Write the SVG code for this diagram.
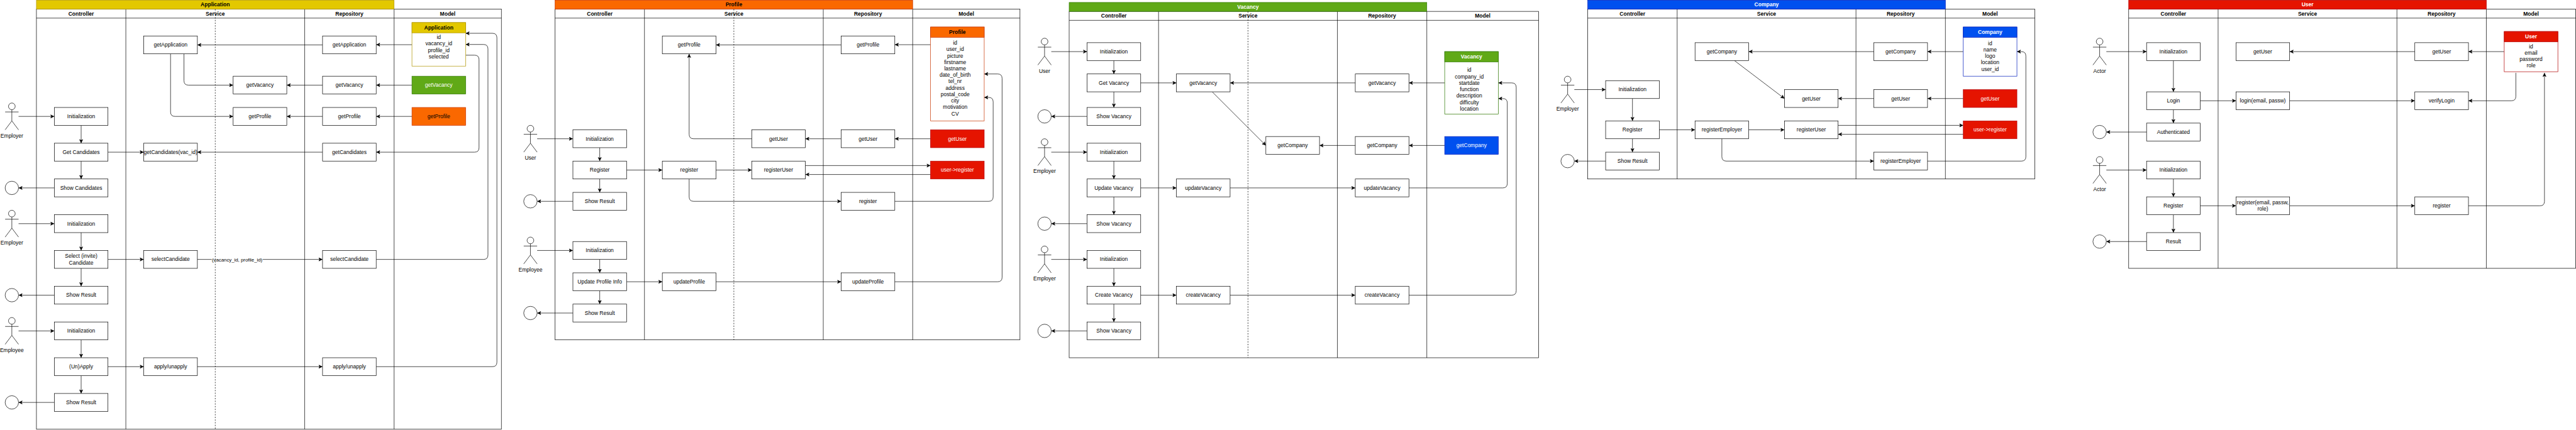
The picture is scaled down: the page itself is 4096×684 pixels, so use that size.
<svg xmlns="http://www.w3.org/2000/svg" width="4096" height="684" viewBox="0 0 4096 684">
<style>
text{font-family:"Liberation Sans",Arial,Helvetica,sans-serif;font-size:12px;text-anchor:middle;fill:#000}
.bold{font-weight:bold}
.w{fill:#fff}
.b{fill:#fff;stroke:#000}
.s{fill:#fff;stroke:#000}
.l{fill:none;stroke:#000}
.c{fill:none;stroke:#000;marker-end:url(#arrow)}
.d{fill:none;stroke:#000;stroke-dasharray:3 3}
.yellow{fill:#e3c800;stroke:#B09500}
.orange{fill:#fa6800;stroke:#C73500}
.green{fill:#60a917;stroke:#2D7600}
.blue{fill:#0050ef;stroke:#001DBC}
.red{fill:#e51400;stroke:#B20000}
.by{fill:#fff;stroke:#B09500}
.bo{fill:#fff;stroke:#C73500}
.bg{fill:#fff;stroke:#2D7600}
.bb{fill:#fff;stroke:#001DBC}
.br{fill:#fff;stroke:#B20000}
</style>
<defs>
<marker id="arrow" markerUnits="userSpaceOnUse" markerWidth="10" markerHeight="9" viewBox="0 0 10 9" refX="9.1" refY="4.5" orient="auto"><path d="M8 4.5L1 1L2.75 4.5L1 8Z" fill="#000" stroke="#000"/></marker>
<rect id="r" class="b" width="120" height="40"/>
<g id="actor"><ellipse class="s" cx="15" cy="7.5" rx="7.5" ry="7.5"/><path class="l" d="M15 15V40M0 20H30M0 60L15 40L30 60"/></g>
<ellipse id="circ" class="s" cx="15" cy="15" rx="15" ry="15"/>
</defs>
<rect width="4096" height="684" fill="#fff"/>
<g transform="scale(0.71086)">

<g id="pools">
<g id="pool-application">
<rect class="b" x="81.5" y="20.5" width="1040" height="940"/>
<path class="l" d="M81.5 40.5H1121.5M281.5 20.5V960.5M681.5 20.5V960.5M881.5 20.5V960.5"/>
<rect class="yellow" x="81.5" y="0.5" width="800" height="20"/>
<text class="bold" x="481.5" y="14.5">Application</text>
<text class="bold" x="181.5" y="34.5">Controller</text><text class="bold" x="481.5" y="34.5">Service</text><text class="bold" x="781.5" y="34.5">Repository</text><text class="bold" x="1001.5" y="34.5">Model</text>
</g>
<g id="pool-profile">
<rect class="b" x="1241.5" y="20.5" width="1040" height="740"/>
<path class="l" d="M1241.5 40.5H2281.5M1441.5 20.5V760.5M1841.5 20.5V760.5M2041.5 20.5V760.5"/>
<rect class="orange" x="1241.5" y="0.5" width="800" height="20"/>
<text class="bold" x="1641.5" y="14.5">Profile</text>
<text class="bold" x="1341.5" y="34.5">Controller</text><text class="bold" x="1641.5" y="34.5">Service</text><text class="bold" x="1941.5" y="34.5">Repository</text><text class="bold" x="2161.5" y="34.5">Model</text>
</g>
<g id="pool-vacancy">
<rect class="b" x="2391.5" y="25.5" width="1050" height="775"/>
<path class="l" d="M2391.5 45.5H3441.5M2591.5 25.5V800.5M2991.5 25.5V800.5M3191.5 25.5V800.5"/>
<rect class="green" x="2391.5" y="5.5" width="800" height="20"/>
<text class="bold w" x="2791.5" y="19.5">Vacancy</text>
<text class="bold" x="2491.5" y="39.5">Controller</text><text class="bold" x="2791.5" y="39.5">Service</text><text class="bold" x="3091.5" y="39.5">Repository</text><text class="bold" x="3316.5" y="39.5">Model</text>
</g>
<g id="pool-company">
<rect class="b" x="3551.5" y="20.5" width="1000" height="380"/>
<path class="l" d="M3551.5 40.5H4551.5M3751.5 20.5V400.5M4151.5 20.5V400.5M4351.5 20.5V400.5"/>
<rect class="blue" x="3551.5" y="0.5" width="800" height="20"/>
<text class="bold w" x="3951.5" y="14.5">Company</text>
<text class="bold" x="3651.5" y="34.5">Controller</text><text class="bold" x="3951.5" y="34.5">Service</text><text class="bold" x="4251.5" y="34.5">Repository</text><text class="bold" x="4451.5" y="34.5">Model</text>
</g>
<g id="pool-user">
<rect class="b" x="4761.5" y="20.5" width="1000" height="580"/>
<path class="l" d="M4761.5 40.5H5761.5M4961.5 20.5V600.5M5361.5 20.5V600.5M5561.5 20.5V600.5"/>
<rect class="red" x="4761.5" y="0.5" width="800" height="20"/>
<text class="bold w" x="5161.5" y="14.5">User</text>
<text class="bold" x="4861.5" y="34.5">Controller</text><text class="bold" x="5161.5" y="34.5">Service</text><text class="bold" x="5461.5" y="34.5">Repository</text><text class="bold" x="5661.5" y="34.5">Model</text>
</g>
</g>

<g id="connectors">
<path class="c" d="M41.5 260.5H121.5"/>
<path class="c" d="M181.5 280.5V320.5"/>
<path class="c" d="M181.5 360.5V400.5"/>
<path class="c" d="M121.5 420.5H41.5"/>
<path class="c" d="M41.5 500.5H121.5"/>
<path class="c" d="M181.5 520.5V560.5"/>
<path class="c" d="M181.5 600.5V640.5"/>
<path class="c" d="M121.5 660.5H41.5"/>
<path class="c" d="M41.5 740.5H121.5"/>
<path class="c" d="M181.5 760.5V800.5"/>
<path class="c" d="M181.5 840.5V880.5"/>
<path class="c" d="M121.5 900.5H41.5"/>
<path class="c" d="M241.5 340.5H321.5"/>
<path class="c" d="M241.5 580.5H321.5"/>
<path class="c" d="M241.5 820.5H321.5"/>
<path class="c" d="M441.5 580.5H721.5"/>
<path class="c" d="M441.5 820.5H721.5"/>
<path class="c" d="M721.5 100.5H441.5"/>
<path class="c" d="M721.5 190.5H641.5"/>
<path class="c" d="M721.5 260.5H641.5"/>
<path class="c" d="M721.5 340.5H441.5"/>
<path class="c" d="M921.5 100H841.5"/>
<path class="c" d="M921.5 190.5H841.5"/>
<path class="c" d="M921.5 260.5H841.5"/>
<path class="c" d="M411.5 120.5V180.5Q411.5 190.5 421.5 190.5H521.5"/>
<path class="c" d="M381.5 120.5V250.5Q381.5 260.5 391.5 260.5H521.5"/>
<path class="c" d="M1041.5 123.5H1061.5Q1071.5 123.5 1071.5 133.5V330.5Q1071.5 340.5 1061.5 340.5H841.5"/>
<path class="c" d="M841.5 580.5H1081.5Q1091.5 580.5 1091.5 570.5V109.5Q1091.5 99.5 1081.5 99.5H1041.5"/>
<path class="c" d="M841.5 820.5H1101.5Q1111.5 820.5 1111.5 810.5V84.5Q1111.5 74.5 1101.5 74.5H1041.5"/>
<g id="label-select"><rect x="473.5" y="575" width="114" height="13" fill="#fff"/><text x="530.5" y="585.5" style="font-size:11px">(vacancy_id, profile_id)</text></g>

<path class="c" d="M1201.5 310.5H1281.5"/>
<path class="c" d="M1341.5 330.5V360.5"/>
<path class="c" d="M1341.5 400.5V430.5"/>
<path class="c" d="M1281.5 450.5H1201.5"/>
<path class="c" d="M1201.5 560.5H1281.5"/>
<path class="c" d="M1341.5 580.5V610.5"/>
<path class="c" d="M1341.5 650.5V680.5"/>
<path class="c" d="M1281.5 700.5H1201.5"/>
<path class="c" d="M1401.5 380.5H1481.5"/>
<path class="c" d="M1401.5 630.5H1481.5"/>
<path class="c" d="M1601.5 380.5H1681.5"/>
<path class="c" d="M1601.5 630.5H1881.5"/>
<path class="c" d="M1681.5 310.5H1551.5Q1541.5 310.5 1541.5 300.5V120.5"/>
<path class="c" d="M1541.5 400.5V440.5Q1541.5 450.5 1551.5 450.5H1881.5"/>
<path class="c" d="M1881.5 100.5H1601.5"/>
<path class="c" d="M1881.5 310.5H1801.5"/>
<path class="c" d="M1801.5 370.5H2081.5"/>
<path class="c" d="M2081.5 390.5H1801.5"/>
<path class="c" d="M2081.5 100H2001.5"/>
<path class="c" d="M2081.5 310.5H2001.5"/>
<path class="c" d="M2001.5 450.5H2211.5Q2221.5 450.5 2221.5 440.5V228Q2221.5 218 2211.5 218H2201.5"/>
<path class="c" d="M2001.5 630.5H2231.5Q2241.5 630.5 2241.5 620.5V175.5Q2241.5 165.5 2231.5 165.5H2201.5"/>

<path class="c" d="M2351.5 115.5H2431.5"/>
<path class="c" d="M2491.5 135.5V165.5"/>
<path class="c" d="M2491.5 205.5V240.5"/>
<path class="c" d="M2431.5 260.5H2351.5"/>
<path class="c" d="M2351.5 340.5H2431.5"/>
<path class="c" d="M2491.5 360.5V400.5"/>
<path class="c" d="M2491.5 440.5V480.5"/>
<path class="c" d="M2431.5 500.5H2351.5"/>
<path class="c" d="M2351.5 580.5H2431.5"/>
<path class="c" d="M2491.5 600.5V640.5"/>
<path class="c" d="M2491.5 680.5V720.5"/>
<path class="c" d="M2431.5 740.5H2351.5"/>
<path class="c" d="M2551.5 185.5H2631.5"/>
<path class="c" d="M2551.5 420.5H2631.5"/>
<path class="c" d="M2551.5 660.5H2631.5"/>
<path class="c" d="M2751.5 420.5H3031.5"/>
<path class="c" d="M2751.5 660.5H3031.5"/>
<path class="c" d="M2711.5 205.5L2831.5 325.5"/>
<path class="c" d="M3031.5 185.5H2751.5"/>
<path class="c" d="M3031.5 325.5H2951.5"/>
<path class="c" d="M3231.5 185.5H3151.5"/>
<path class="c" d="M3231.5 325.5H3151.5"/>
<path class="c" d="M3151.5 420.5H3361.5Q3371.5 420.5 3371.5 410.5V230.5Q3371.5 220.5 3361.5 220.5H3351.5"/>
<path class="c" d="M3151.5 660.5H3381.5Q3391.5 660.5 3391.5 650.5V195.5Q3391.5 185.5 3381.5 185.5H3351.5"/>

<path class="c" d="M3521.5 200.5H3591.5"/>
<path class="c" d="M3651.5 220.5V270.5"/>
<path class="c" d="M3651.5 310.5V340.5"/>
<path class="c" d="M3591.5 360.5H3521.5"/>
<path class="c" d="M3711.5 290.5H3791.5"/>
<path class="c" d="M3911.5 290.5H3991.5"/>
<path class="c" d="M4111.5 280.5H4391.5"/>
<path class="c" d="M4391.5 300.5H4111.5"/>
<path class="c" d="M3851.5 310.5V350.5Q3851.5 360.5 3861.5 360.5H4191.5"/>
<path class="c" d="M4191.5 115.5H3911.5"/>
<path class="c" d="M4391.5 115.5H4311.5"/>
<path class="c" d="M3879.5 135.5L3991.5 220.5"/>
<path class="c" d="M4191.5 220.5H4111.5"/>
<path class="c" d="M4391.5 220.5H4311.5"/>
<path class="c" d="M4311.5 360.5H4521.5Q4531.5 360.5 4531.5 350.5V125.5Q4531.5 115.5 4521.5 115.5H4511.5"/>

<path class="c" d="M4711.5 115.5H4801.5"/>
<path class="c" d="M4861.5 135.5V205.5"/>
<path class="c" d="M4861.5 245.5V275.5"/>
<path class="c" d="M4801.5 295.5H4711.5"/>
<path class="c" d="M4711.5 380.5H4801.5"/>
<path class="c" d="M4861.5 400.5V440.5"/>
<path class="c" d="M4861.5 480.5V520.5"/>
<path class="c" d="M4801.5 540.5H4711.5"/>
<path class="c" d="M4921.5 225.5H5001.5"/>
<path class="c" d="M4921.5 460.5H5001.5"/>
<path class="c" d="M5121.5 225.5H5401.5"/>
<path class="c" d="M5121.5 460.5H5401.5"/>
<path class="c" d="M5401.5 115.5H5121.5"/>
<path class="c" d="M5601.5 115.5H5521.5"/>
<path class="c" d="M5627.5 163V215.5Q5627.5 225.5 5617.5 225.5H5521.5"/>
<path class="c" d="M5521.5 460.5H5681.5Q5691.5 460.5 5691.5 450.5V163"/>
</g>

<g id="dashes">
<path class="d" d="M481.5 20.5V960.5"/>
<path class="d" d="M1641.5 20.5V760.5"/>
<path class="d" d="M2791.5 25.5V800.5"/>
</g>

<g id="nodes">
<g id="a-actor1" transform="translate(11.5,230.5)"><use href="#actor"/><text x="15" y="77">Employer</text></g>
<g id="a-end1" transform="translate(11.5,405.5)"><use href="#circ"/></g>
<g id="a-actor2" transform="translate(11.5,470.5)"><use href="#actor"/><text x="15" y="77">Employer</text></g>
<g id="a-end2" transform="translate(11.5,645.5)"><use href="#circ"/></g>
<g id="a-actor3" transform="translate(11.5,710.5)"><use href="#actor"/><text x="15" y="77">Employee</text></g>
<g id="a-end3" transform="translate(11.5,885.5)"><use href="#circ"/></g>
<g id="a-c1" transform="translate(121.5,240.5)"><use href="#r"/><text x="60" y="24">Initialization</text></g>
<g id="a-c2" transform="translate(121.5,320.5)"><use href="#r"/><text x="60" y="24">Get Candidates</text></g>
<g id="a-c3" transform="translate(121.5,400.5)"><use href="#r"/><text x="60" y="24">Show Candidates</text></g>
<g id="a-c4" transform="translate(121.5,480.5)"><use href="#r"/><text x="60" y="24">Initialization</text></g>
<g id="a-c5" transform="translate(121.5,560.5)"><use href="#r"/><text x="60" y="16.8">Select (invite)<tspan x="60" dy="14.4">Candidate</tspan></text></g>
<g id="a-c6" transform="translate(121.5,640.5)"><use href="#r"/><text x="60" y="24">Show Result</text></g>
<g id="a-c7" transform="translate(121.5,720.5)"><use href="#r"/><text x="60" y="24">Initialization</text></g>
<g id="a-c8" transform="translate(121.5,800.5)"><use href="#r"/><text x="60" y="24">(Un)Apply</text></g>
<g id="a-c9" transform="translate(121.5,880.5)"><use href="#r"/><text x="60" y="24">Show Result</text></g>
<g id="a-s1" transform="translate(321.5,80.5)"><use href="#r"/><text x="60" y="24">getApplication</text></g>
<g id="a-s2" transform="translate(521.5,170.5)"><use href="#r"/><text x="60" y="24">getVacancy</text></g>
<g id="a-s3" transform="translate(521.5,240.5)"><use href="#r"/><text x="60" y="24">getProfile</text></g>
<g id="a-s4" transform="translate(321.5,320.5)"><use href="#r"/><text x="60" y="24">getCandidates(vac_id)</text></g>
<g id="a-s5" transform="translate(321.5,560.5)"><use href="#r"/><text x="60" y="24">selectCandidate</text></g>
<g id="a-s6" transform="translate(321.5,800.5)"><use href="#r"/><text x="60" y="24">apply/unapply</text></g>
<g id="a-r1" transform="translate(721.5,80.5)"><use href="#r"/><text x="60" y="24">getApplication</text></g>
<g id="a-r2" transform="translate(721.5,170.5)"><use href="#r"/><text x="60" y="24">getVacancy</text></g>
<g id="a-r3" transform="translate(721.5,240.5)"><use href="#r"/><text x="60" y="24">getProfile</text></g>
<g id="a-r4" transform="translate(721.5,320.5)"><use href="#r"/><text x="60" y="24">getCandidates</text></g>
<g id="a-r5" transform="translate(721.5,560.5)"><use href="#r"/><text x="60" y="24">selectCandidate</text></g>
<g id="a-r6" transform="translate(721.5,800.5)"><use href="#r"/><text x="60" y="24">apply/unapply</text></g>
<g id="a-m1" transform="translate(921.5,50.5)"><rect class="by" width="120" height="97.5"/><rect class="yellow" width="120" height="23"/><text class="bold" x="60" y="16">Application</text><text x="60" y="37.1">id<tspan x="60" dy="14.4">vacancy_id</tspan><tspan x="60" dy="14.4">profile_id</tspan><tspan x="60" dy="14.4">selected</tspan></text></g>
<g id="a-m2" transform="translate(921.5,170.5)"><rect class="green" width="120" height="40"/><text class="w" x="60" y="24">getVacancy</text></g>
<g id="a-m3" transform="translate(921.5,240.5)"><rect class="orange" width="120" height="40"/><text x="60" y="24">getProfile</text></g>

<g id="p-actor1" transform="translate(1171.5,280.5)"><use href="#actor"/><text x="15" y="77">User</text></g>
<g id="p-end1" transform="translate(1171.5,435.5)"><use href="#circ"/></g>
<g id="p-actor2" transform="translate(1171.5,530.5)"><use href="#actor"/><text x="15" y="77">Employee</text></g>
<g id="p-end2" transform="translate(1171.5,685.5)"><use href="#circ"/></g>
<g id="p-c1" transform="translate(1281.5,290.5)"><use href="#r"/><text x="60" y="24">Initialization</text></g>
<g id="p-c2" transform="translate(1281.5,360.5)"><use href="#r"/><text x="60" y="24">Register</text></g>
<g id="p-c3" transform="translate(1281.5,430.5)"><use href="#r"/><text x="60" y="24">Show Result</text></g>
<g id="p-c4" transform="translate(1281.5,540.5)"><use href="#r"/><text x="60" y="24">Initialization</text></g>
<g id="p-c5" transform="translate(1281.5,610.5)"><use href="#r"/><text x="60" y="24">Update Profile Info</text></g>
<g id="p-c6" transform="translate(1281.5,680.5)"><use href="#r"/><text x="60" y="24">Show Result</text></g>
<g id="p-s1" transform="translate(1481.5,80.5)"><use href="#r"/><text x="60" y="24">getProfile</text></g>
<g id="p-s2" transform="translate(1681.5,290.5)"><use href="#r"/><text x="60" y="24">getUser</text></g>
<g id="p-s3" transform="translate(1481.5,360.5)"><use href="#r"/><text x="60" y="24">register</text></g>
<g id="p-s4" transform="translate(1681.5,360.5)"><use href="#r"/><text x="60" y="24">registerUser</text></g>
<g id="p-s5" transform="translate(1481.5,610.5)"><use href="#r"/><text x="60" y="24">updateProfile</text></g>
<g id="p-r1" transform="translate(1881.5,80.5)"><use href="#r"/><text x="60" y="24">getProfile</text></g>
<g id="p-r2" transform="translate(1881.5,290.5)"><use href="#r"/><text x="60" y="24">getUser</text></g>
<g id="p-r3" transform="translate(1881.5,430.5)"><use href="#r"/><text x="60" y="24">register</text></g>
<g id="p-r4" transform="translate(1881.5,610.5)"><use href="#r"/><text x="60" y="24">updateProfile</text></g>
<g id="p-m1" transform="translate(2081.5,60.5)"><rect class="bo" width="120" height="210"/><rect class="orange" width="120" height="23"/><text class="bold" x="60" y="16">Profile</text><text x="55" y="39.5">id<tspan x="55" dy="14.4">user_id</tspan><tspan x="55" dy="14.4">picture</tspan><tspan x="55" dy="14.4">firstname</tspan><tspan x="55" dy="14.4">lastname</tspan><tspan x="55" dy="14.4">date_of_birth</tspan><tspan x="55" dy="14.4">tel_nr</tspan><tspan x="55" dy="14.4">address</tspan><tspan x="55" dy="14.4">postal_code</tspan><tspan x="55" dy="14.4">city</tspan><tspan x="55" dy="14.4">motivation</tspan><tspan x="55" dy="14.4">CV</tspan></text></g>
<g id="p-m2" transform="translate(2081.5,290.5)"><rect class="red" width="120" height="40"/><text class="w" x="60" y="24">getUser</text></g>
<g id="p-m3" transform="translate(2081.5,360.5)"><rect class="red" width="120" height="40"/><text class="w" x="60" y="24">user-&gt;register</text></g>

<g id="v-actor1" transform="translate(2321.5,85.5)"><use href="#actor"/><text x="15" y="77">User</text></g>
<g id="v-end1" transform="translate(2321.5,245.5)"><use href="#circ"/></g>
<g id="v-actor2" transform="translate(2321.5,310.5)"><use href="#actor"/><text x="15" y="77">Employer</text></g>
<g id="v-end2" transform="translate(2321.5,485.5)"><use href="#circ"/></g>
<g id="v-actor3" transform="translate(2321.5,550.5)"><use href="#actor"/><text x="15" y="77">Employer</text></g>
<g id="v-end3" transform="translate(2321.5,725.5)"><use href="#circ"/></g>
<g id="v-c1" transform="translate(2431.5,95.5)"><use href="#r"/><text x="60" y="24">Initialization</text></g>
<g id="v-c2" transform="translate(2431.5,165.5)"><use href="#r"/><text x="60" y="24">Get Vacancy</text></g>
<g id="v-c3" transform="translate(2431.5,240.5)"><use href="#r"/><text x="60" y="24">Show Vacancy</text></g>
<g id="v-c4" transform="translate(2431.5,320.5)"><use href="#r"/><text x="60" y="24">Initialization</text></g>
<g id="v-c5" transform="translate(2431.5,400.5)"><use href="#r"/><text x="60" y="24">Update Vacancy</text></g>
<g id="v-c6" transform="translate(2431.5,480.5)"><use href="#r"/><text x="60" y="24">Show Vacancy</text></g>
<g id="v-c7" transform="translate(2431.5,560.5)"><use href="#r"/><text x="60" y="24">Initialization</text></g>
<g id="v-c8" transform="translate(2431.5,640.5)"><use href="#r"/><text x="60" y="24">Create Vacancy</text></g>
<g id="v-c9" transform="translate(2431.5,720.5)"><use href="#r"/><text x="60" y="24">Show Vacancy</text></g>
<g id="v-s1" transform="translate(2631.5,165.5)"><use href="#r"/><text x="60" y="24">getVacancy</text></g>
<g id="v-s2" transform="translate(2831.5,305.5)"><use href="#r"/><text x="60" y="24">getCompany</text></g>
<g id="v-s3" transform="translate(2631.5,400.5)"><use href="#r"/><text x="60" y="24">updateVacancy</text></g>
<g id="v-s4" transform="translate(2631.5,640.5)"><use href="#r"/><text x="60" y="24">createVacancy</text></g>
<g id="v-r1" transform="translate(3031.5,165.5)"><use href="#r"/><text x="60" y="24">getVacancy</text></g>
<g id="v-r2" transform="translate(3031.5,305.5)"><use href="#r"/><text x="60" y="24">getCompany</text></g>
<g id="v-r3" transform="translate(3031.5,400.5)"><use href="#r"/><text x="60" y="24">updateVacancy</text></g>
<g id="v-r4" transform="translate(3031.5,640.5)"><use href="#r"/><text x="60" y="24">createVacancy</text></g>
<g id="v-m1" transform="translate(3231.5,115.5)"><rect class="bg" width="120" height="140"/><rect class="green" width="120" height="23"/><text class="bold w" x="60" y="16">Vacancy</text><text x="55" y="45.5">id<tspan x="55" dy="14.4">company_id</tspan><tspan x="55" dy="14.4">startdate</tspan><tspan x="55" dy="14.4">function</tspan><tspan x="55" dy="14.4">description</tspan><tspan x="55" dy="14.4">difficulty</tspan><tspan x="55" dy="14.4">location</tspan></text></g>
<g id="v-m2" transform="translate(3231.5,305.5)"><rect class="blue" width="120" height="40"/><text class="w" x="60" y="24">getCompany</text></g>

<g id="c-actor1" transform="translate(3491.5,170.5)"><use href="#actor"/><text x="15" y="77">Employer</text></g>
<g id="c-end1" transform="translate(3491.5,345.5)"><use href="#circ"/></g>
<g id="c-c1" transform="translate(3591.5,180.5)"><use href="#r"/><text x="60" y="24">Initialization</text></g>
<g id="c-c2" transform="translate(3591.5,270.5)"><use href="#r"/><text x="60" y="24">Register</text></g>
<g id="c-c3" transform="translate(3591.5,340.5)"><use href="#r"/><text x="60" y="24">Show Result</text></g>
<g id="c-s1" transform="translate(3791.5,95.5)"><use href="#r"/><text x="60" y="24">getCompany</text></g>
<g id="c-s2" transform="translate(3991.5,200.5)"><use href="#r"/><text x="60" y="24">getUser</text></g>
<g id="c-s3" transform="translate(3791.5,270.5)"><use href="#r"/><text x="60" y="24">registerEmployer</text></g>
<g id="c-s4" transform="translate(3991.5,270.5)"><use href="#r"/><text x="60" y="24">registerUser</text></g>
<g id="c-r1" transform="translate(4191.5,95.5)"><use href="#r"/><text x="60" y="24">getCompany</text></g>
<g id="c-r2" transform="translate(4191.5,200.5)"><use href="#r"/><text x="60" y="24">getUser</text></g>
<g id="c-r3" transform="translate(4191.5,340.5)"><use href="#r"/><text x="60" y="24">registerEmployer</text></g>
<g id="c-m1" transform="translate(4391.5,60.5)"><rect class="bb" width="120" height="110"/><rect class="blue" width="120" height="23"/><text class="bold w" x="60" y="16">Company</text><text x="60" y="40.5">id<tspan x="60" dy="14.4">name</tspan><tspan x="60" dy="14.4">logo</tspan><tspan x="60" dy="14.4">location</tspan><tspan x="60" dy="14.4">user_id</tspan></text></g>
<g id="c-m2" transform="translate(4391.5,200.5)"><rect class="red" width="120" height="40"/><text class="w" x="60" y="24">getUser</text></g>
<g id="c-m3" transform="translate(4391.5,270.5)"><rect class="red" width="120" height="40"/><text class="w" x="60" y="24">user-&gt;register</text></g>

<g id="u-actor1" transform="translate(4681.5,85.5)"><use href="#actor"/><text x="15" y="77">Actor</text></g>
<g id="u-end1" transform="translate(4681.5,280.5)"><use href="#circ"/></g>
<g id="u-actor2" transform="translate(4681.5,350.5)"><use href="#actor"/><text x="15" y="77">Actor</text></g>
<g id="u-end2" transform="translate(4681.5,525.5)"><use href="#circ"/></g>
<g id="u-c1" transform="translate(4801.5,95.5)"><use href="#r"/><text x="60" y="24">Initialization</text></g>
<g id="u-c2" transform="translate(4801.5,205.5)"><use href="#r"/><text x="60" y="24">Login</text></g>
<g id="u-c3" transform="translate(4801.5,275.5)"><use href="#r"/><text x="60" y="24">Authenticated</text></g>
<g id="u-c4" transform="translate(4801.5,360.5)"><use href="#r"/><text x="60" y="24">Initialization</text></g>
<g id="u-c5" transform="translate(4801.5,440.5)"><use href="#r"/><text x="60" y="24">Register</text></g>
<g id="u-c6" transform="translate(4801.5,520.5)"><use href="#r"/><text x="60" y="24">Result</text></g>
<g id="u-s1" transform="translate(5001.5,95.5)"><use href="#r"/><text x="60" y="24">getUser</text></g>
<g id="u-s2" transform="translate(5001.5,205.5)"><use href="#r"/><text x="60" y="24">login(email, passw)</text></g>
<g id="u-s3" transform="translate(5001.5,440.5)"><use href="#r"/><text x="60" y="16.8">register(email, passw,<tspan x="60" dy="14.4">role)</tspan></text></g>
<g id="u-r1" transform="translate(5401.5,95.5)"><use href="#r"/><text x="60" y="24">getUser</text></g>
<g id="u-r2" transform="translate(5401.5,205.5)"><use href="#r"/><text x="60" y="24">verifyLogin</text></g>
<g id="u-r3" transform="translate(5401.5,440.5)"><use href="#r"/><text x="60" y="24">register</text></g>
<g id="u-m1" transform="translate(5601.5,70.5)"><rect class="br" width="120" height="90"/><rect class="red" width="120" height="23"/><text class="bold w" x="60" y="16">User</text><text x="60" y="37.5">id<tspan x="60" dy="14.4">email</tspan><tspan x="60" dy="14.4">password</tspan><tspan x="60" dy="14.4">role</tspan></text></g>
</g>

</g>
</svg>
